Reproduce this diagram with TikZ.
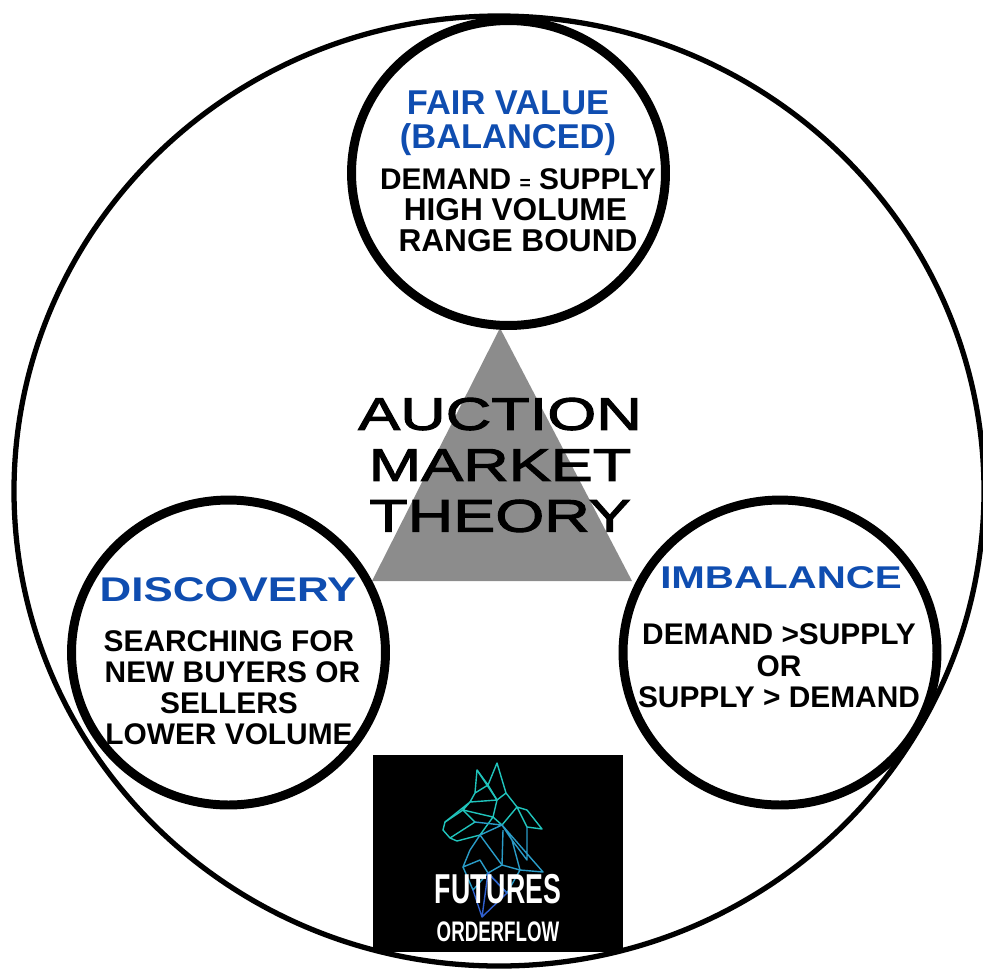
\documentclass[tikz,border=0pt]{standalone}
\usepackage{fontspec}
\usetikzlibrary{shapes.geometric}
\setmainfont{Liberation Sans}
\newfontfamily\widefont[FakeStretch=1.28]{Liberation Sans}
\newfontfamily\titlefont[FakeStretch=1.38,FakeBold=2.4]{Liberation Sans}
\definecolor{headblue}{HTML}{0F4DB0}
\definecolor{trigray}{HTML}{8C8C8C}
\definecolor{wolftop}{HTML}{20C4BC}
\definecolor{wolfmid}{HTML}{2A9CC8}
\definecolor{wolfend}{HTML}{3060D0}
\tikzset{
  ring/.style={draw=black, line width=5.1pt, ellipse, inner sep=0pt, minimum width=6.28cm, minimum height=6.1cm, fill=white},
  headtext/.style={text=headblue, font=\bfseries\fontsize{19.6}{21}\selectfont, align=center},
  bodytext/.style={text=black, font=\bfseries\fontsize{17}{17.6}\selectfont, align=center},
  wolfline/.style={line width=0.8pt, line join=round},
}
\begin{document}
\begin{tikzpicture}[x=0.02cm, y=-0.02cm]
\useasboundingbox (0,0) rectangle (983,968);

% outer ring
\draw[black, line width=3pt] (499,491) ellipse (485 and 475);

% triangle
\coordinate (apex) at (500,328);
\coordinate (baseL) at (372,581);
\coordinate (baseR) at (632,581);
\fill[trigray] (apex) -- (baseL) -- (baseR) -- cycle;

% three rings
\node[ring] (fair) at (508.5,173) {};
\node[ring] (discovery) at (228.5,652.5) {};
\node[ring] (imbalance) at (780,652.5) {};

% texts of the rings
\node[headtext] (fairhead) at (508,123) {FAIR VALUE\\[-1.5pt](BALANCED)};
\node[bodytext, font=\bfseries\fontsize{18}{17.6}\selectfont] (fairbody) at (518,210) {{\fontsize{17}{17.6}\selectfont DEMAND\ {\fontsize{11}{11}\selectfont =}\ SUPPLY}\\HIGH VOLUME\kern 3pt\\RANGE BOUND};
\node[headtext, font=\bfseries\widefont\fontsize{19.5}{21}\selectfont] (dischead) at (228,590) {DISCOVERY};
\node[bodytext] (discbody) at (229,688) {SEARCHING FOR\\\hspace*{4pt}NEW BUYERS OR\\SELLERS\\LOWER VOLUME};
\node[headtext, font=\bfseries\widefont\fontsize{17.9}{21}\selectfont] (imbhead) at (781,578) {IMBALANCE};
\node[bodytext, font=\bfseries\fontsize{17}{18}\selectfont] (imbbody) at (779,666) {DEMAND >SUPPLY\\OR\\SUPPLY > DEMAND};

% title
\node[font=\titlefont\fontsize{26}{29}\selectfont, align=center] (title) at (500,465) {AUCTION\\MARKET\\THEORY};

% logo
\node[fill=black, minimum width=5cm, minimum height=3.94cm, inner sep=0pt] (logo) at (498,853.5) {};

% wolf
\foreach \pts/\col in {%
  {(475,793)--(477,770)--(488,785)--(497,763)--(506,793)--(497,800)--(488,785)--(475,793)--(470,802)--(497,800)}/wolftop,%
  {(477,770)--(497,800)--(493,817)--(463,810)--(470,802)--(445,822)--(443,830)--(450,838)--(457,841)--(480,835)--(493,817)}/wolftop,%
  {(506,793)--(517,807)--(527,810)--(542,829)--(527,827)--(517,807)--(502,825)--(493,817)}/wolftop,%
  {(445,822)--(463,810)--(475,822)--(450,838)}/wolftop,%
  {(475,822)--(502,825)--(480,835)--(470,850)--(463,867)--(480,860)--(488,873)--(502,865)--(503,830)}/wolfmid,%
  {(527,827)--(527,860)--(512,840)--(502,825)--(543,872)--(520,870)--(512,840)}/wolfmid,%
  {(480,835)--(502,865)--(520,870)--(507,893)--(488,873)--(473,890)--(463,867)}/wolfmid,%
  {(473,890)--(482,917)--(507,893)--(488,873)--(482,917)}/wolfend%
}{
  \draw[wolfline, \col] \pts;
}

\node[text=white, font=\bfseries\fontsize{19.5}{20}\selectfont, xscale=0.78, yscale=1.22] (futures) at (498,889) {FUTURES};
\node[text=white, font=\bfseries\fontsize{14}{15}\selectfont, xscale=0.76, yscale=1.15] (orderflow) at (498,932) {ORDERFLOW};

\end{tikzpicture}
\end{document}
